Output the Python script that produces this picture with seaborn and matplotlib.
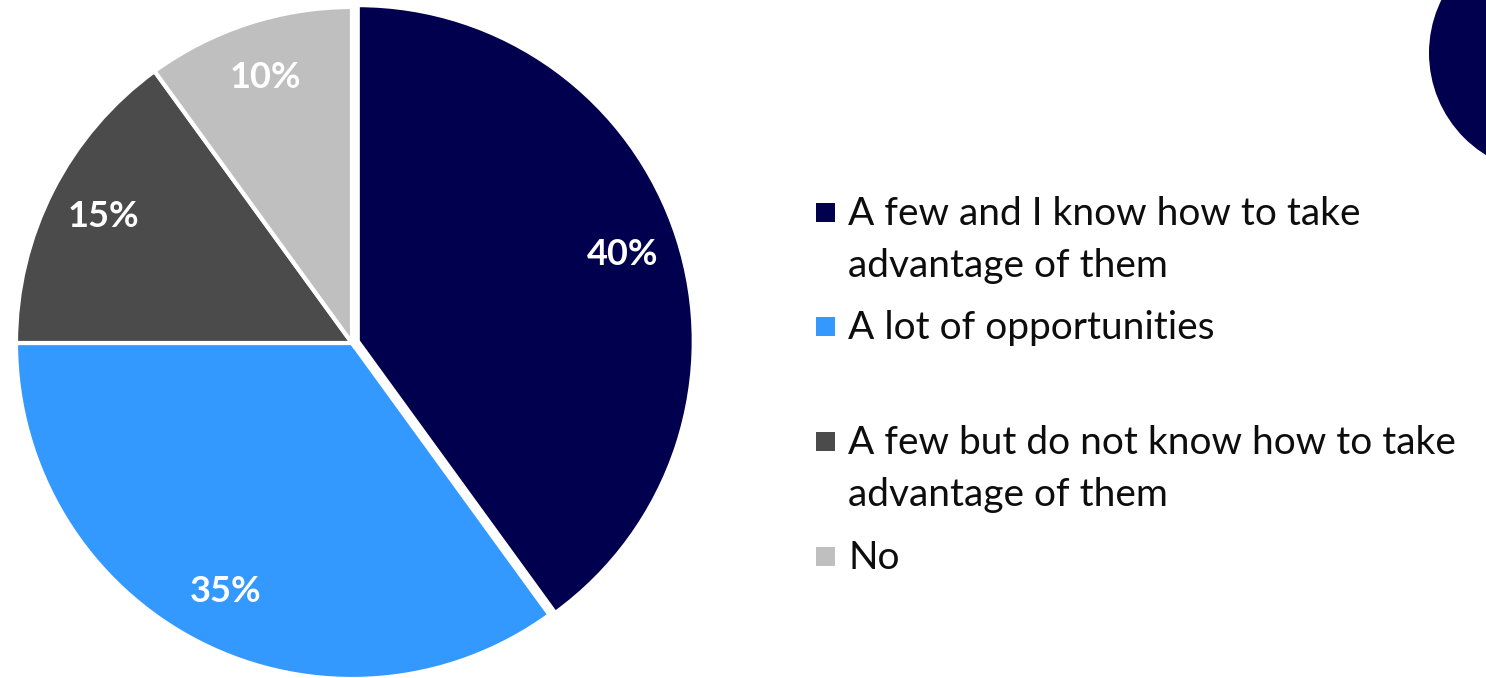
import matplotlib
matplotlib.use("Agg")
import matplotlib.pyplot as plt
from matplotlib.patches import Ellipse, Rectangle
import seaborn as sns

# Survey answers and their shares (percent)
categories = [
    "A few and I know how to take\nadvantage of them",
    "A lot of opportunities",
    "A few but do not know how to take\nadvantage of them",
    "No",
]
shares = [40, 35, 15, 10]
colors = ["#00004F", "#3399FF", "#4B4B4B", "#BFBFBF"]

sns.set_theme(style="white")
plt.rcParams["font.family"] = ["Lato", "DejaVu Sans"]

W, H = 1486, 678
fig = plt.figure(figsize=(W / 100, H / 100), dpi=100)
fig.patch.set_facecolor("white")

# Pie axes, placed in pixel units (centre 352,343 from top-left; radius 336)
cx, cy, r = 352, 343, 336
ax = fig.add_axes([(cx - r) / W, (H - cy - r) / H, 2 * r / W, 2 * r / H])

wedges, texts, autotexts = ax.pie(
    shares,
    colors=colors,
    startangle=90,
    counterclock=False,
    radius=1,
    explode=[0.018, 0, 0, 0],
    autopct=lambda p: f"{p:.0f}%",
    pctdistance=0.83,
    wedgeprops=dict(edgecolor="white", linewidth=3),
    textprops=dict(color="white", fontsize=26, fontweight="bold"),
)
ax.set_xlim(-1, 1)
ax.set_ylim(-1, 1)
ax.set_aspect("equal")
ax.axis("off")

# Legend drawn as coloured squares with wrapped labels
legend_baselines = [225, 339, 454, 569]
line_step = 52
sq = 19
for cat, col, base in zip(categories, colors, legend_baselines):
    fig.add_artist(Rectangle((816 / W, (H - base + 3) / H), sq / W, sq / H,
                             transform=fig.transFigure, facecolor=col,
                             edgecolor="none"))
    for i, line in enumerate(cat.split("\n")):
        fig.text(848 / W, (H - base - i * line_step) / H, line, fontsize=28,
                 color="#0D0D0D", ha="left", va="baseline")

# Decorative navy disc at the upper-right corner
fig.add_artist(Ellipse((1549 / W, (H - 53) / H), 240 / W, 240 / H,
                       transform=fig.transFigure, facecolor="#00004F",
                       edgecolor="none"))

fig.savefig("out.png", dpi=100, facecolor="white")
